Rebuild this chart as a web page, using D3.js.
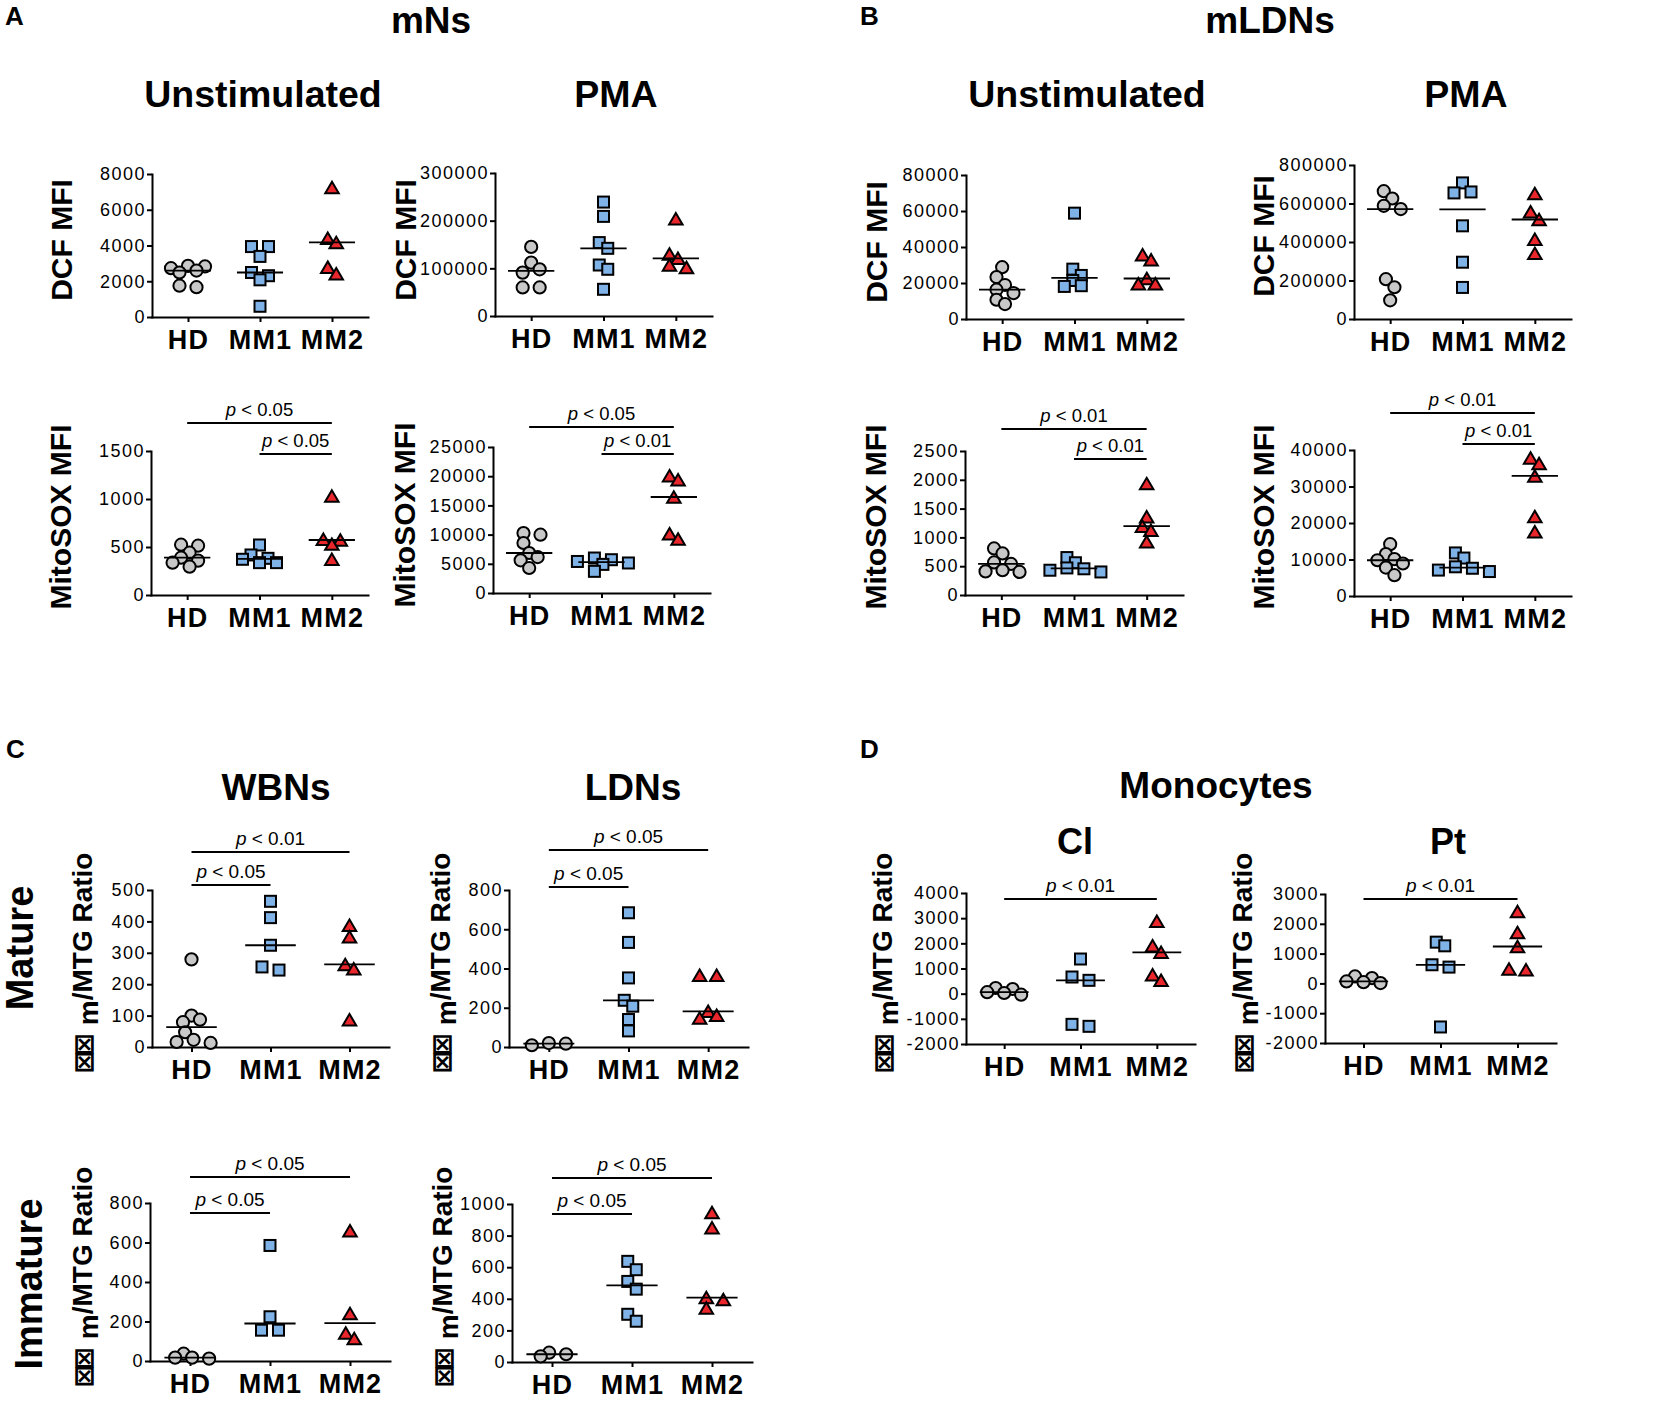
<!DOCTYPE html>
<html>
<head>
<meta charset="utf-8">
<script src="https://cdn.jsdelivr.net/npm/d3@7/dist/d3.min.js"></script>
<style>
  html, body { margin: 0; padding: 0; background: #fff; }
  svg { display: block; }
</style>
</head>
<body>
<svg id="chart" width="1654" height="1411"></svg>
<script>
// ---------------- DATA ----------------
const groups = ["HD", "MM1", "MM2"];

// Panel A: mNs
const aDcfUnstim = [[2830, 2600, 2490, 2730, 2860, 1670, 1750],
                    [3940, 3940, 3390, 2310, 2490, 2080, 600],
                    [7250, 4410, 4170, 2420, 2790]];
const aDcfPma = [[145000, 98000, 91000, 112000, 60000, 60000],
                 [239000, 209000, 154000, 142000, 107000, 98000, 56000],
                 [204000, 121000, 130000, 102000, 107000]];
const aMitoUnstim = [[441, 524, 514, 358, 389, 337, 295],
                     [521, 417, 372, 337, 337, 382],
                     [1031, 580, 573, 530, 372]];
const aMitoPma = [[9990, 10270, 8560, 6160, 6850, 5590, 4280],
                  [5990, 5700, 5400, 5140, 4900, 3710],
                  [19400, 20090, 16440, 9250, 10160]];

// Panel B: mLDNs
const bDcfUnstim = [[28800, 23300, 18900, 14400, 16300, 10700, 8300],
                    [58800, 27700, 21400, 24200, 18100, 18500],
                    [35700, 32900, 22500, 19600, 19600]];
const bDcfPma = [[626000, 664000, 571000, 588000, 207000, 165000, 97000],
                 [660000, 655000, 707000, 484000, 295000, 164000],
                 [652000, 557000, 517000, 414000, 341000]];
const bMitoUnstim = [[808, 722, 566, 540, 410, 400, 430],
                     [650, 560, 470, 455, 430, 400],
                     [1934, 1357, 1195, 1126, 924]];
const bMitoPma = [[14200, 11500, 10100, 9800, 8900, 7800, 5700],
                  [11800, 10400, 8000, 7600, 7100, 6700],
                  [37800, 36300, 32900, 21800, 17600]];

// Panel C: WBNs / LDNs
const cWbnMature = [[279, 87, 79, 100, 47, 23, 13, 16],
                    [464, 412, 324, 245, 255],
                    [388, 351, 263, 249, 87]];
const cLdnMature = [[20, 9, 17],
                    [684, 533, 352, 238, 208, 140, 82],
                    [366, 366, 182, 148, 162]];
const cWbnImmature = [[17, 12, 17, 37],
                      [585, 224, 156, 156],
                      [659, 241, 114, 142]];
const cLdnImmature = [[59, 36, 49],
                      [584, 637, 510, 461, 258, 302],
                      [946, 850, 408, 395, 342]];

// Panel D: Monocytes
const dCl = [[-40, 26, 60, 185, 225],
             [1377, 662, 530, -1298, -1219],
             [2874, 1907, 1642, 755, 530]];
const dPt = [[11, 40, 67, 178, 234],
             [1261, 1384, 625, 547, -1462],
             [2411, 1708, 1239, 458, 480]];

// Y tick values
const ticksADcfUnstim = [0, 2000, 4000, 6000, 8000];
const ticksADcfPma = [0, 100000, 200000, 300000];
const ticksAMitoUnstim = [0, 500, 1000, 1500];
const ticksAMitoPma = [0, 5000, 10000, 15000, 20000, 25000];
const ticksBDcfUnstim = [0, 20000, 40000, 60000, 80000];
const ticksBDcfPma = [0, 200000, 400000, 600000, 800000];
const ticksBMitoUnstim = [0, 500, 1000, 1500, 2000, 2500];
const ticksBMitoPma = [0, 10000, 20000, 30000, 40000];
const ticksCWbnMature = [0, 100, 200, 300, 400, 500];
const ticksCLdnMature = [0, 200, 400, 600, 800];
const ticksCWbnImmature = [0, 200, 400, 600, 800];
const ticksCLdnImmature = [0, 200, 400, 600, 800, 1000];
const ticksDCl = [-2000, -1000, 0, 1000, 2000, 3000, 4000];
const ticksDPt = [-2000, -1000, 0, 1000, 2000, 3000];

// Significance comparisons [from, to, p threshold]
const sigAMitoUnstim = [["HD", "MM2", "0.05"], ["MM1", "MM2", "0.05"]];
const sigAMitoPma = [["HD", "MM2", "0.05"], ["MM1", "MM2", "0.01"]];
const sigBMitoUnstim = [["HD", "MM2", "0.01"], ["MM1", "MM2", "0.01"]];
const sigBMitoPma = [["HD", "MM2", "0.01"], ["MM1", "MM2", "0.01"]];
const sigCWbnMature = [["HD", "MM2", "0.01"], ["HD", "MM1", "0.05"]];
const sigCLdnMature = [["HD", "MM2", "0.05"], ["HD", "MM1", "0.05"]];
const sigCWbnImmature = [["HD", "MM2", "0.05"], ["HD", "MM1", "0.05"]];
const sigCLdnImmature = [["HD", "MM2", "0.05"], ["HD", "MM1", "0.05"]];
const sigDCl = [["HD", "MM2", "0.01"]];
const sigDPt = [["HD", "MM2", "0.01"]];

// ---------------- LAYOUT ----------------
const FONT = "'Liberation Sans', Arial, Helvetica, sans-serif";
const FILLS = ["#c8c8c8", "#7fb2e6", "#e8262b"];
const YLAB_DCF = "DCF MFI", YLAB_MITO = "MitoSOX MFI", YLAB_RATIO = "ratio";

const panels = [
  {data: aDcfUnstim, ticks: ticksADcfUnstim, x0: 152, x1: 368, yTop: 174, yBot: 317, label: YLAB_DCF, lx: 72, ly: 240, sig: [], sigY: []},
  {data: aDcfPma, ticks: ticksADcfPma, x0: 495, x1: 712, yTop: 173, yBot: 316, label: YLAB_DCF, lx: 416, ly: 240, sig: [], sigY: []},
  {data: aMitoUnstim, ticks: ticksAMitoUnstim, x0: 151, x1: 368, yTop: 451, yBot: 595, label: YLAB_MITO, lx: 71, ly: 517, sig: sigAMitoUnstim, sigY: [423, 454], sigFs: 18.5},
  {data: aMitoPma, ticks: ticksAMitoPma, x0: 493, x1: 710, yTop: 447, yBot: 593, label: YLAB_MITO, lx: 415, ly: 515, sig: sigAMitoPma, sigY: [427, 454], sigFs: 18.5},
  {data: bDcfUnstim, ticks: ticksBDcfUnstim, x0: 966, x1: 1183, yTop: 175, yBot: 319, label: YLAB_DCF, lx: 887, ly: 242, sig: [], sigY: []},
  {data: bDcfPma, ticks: ticksBDcfPma, x0: 1354, x1: 1571, yTop: 165, yBot: 319, label: YLAB_DCF, lx: 1274, ly: 236, sig: [], sigY: []},
  {data: bMitoUnstim, ticks: ticksBMitoUnstim, x0: 965, x1: 1183, yTop: 451, yBot: 595, label: YLAB_MITO, lx: 886, ly: 517, sig: sigBMitoUnstim, sigY: [429, 459], sigFs: 18.5},
  {data: bMitoPma, ticks: ticksBMitoPma, x0: 1354, x1: 1571, yTop: 450, yBot: 596, label: YLAB_MITO, lx: 1274, ly: 517, sig: sigBMitoPma, sigY: [413, 444], sigFs: 18.5},
  {data: cWbnMature, ticks: ticksCWbnMature, x0: 152, x1: 389, yTop: 890, yBot: 1047, label: YLAB_RATIO, lx: 92, ly: 963, sig: sigCWbnMature, sigY: [852, 885], sigFs: 19},
  {data: cLdnMature, ticks: ticksCLdnMature, x0: 509, x1: 748, yTop: 890, yBot: 1047, label: YLAB_RATIO, lx: 450, ly: 963, sig: sigCLdnMature, sigY: [850, 887], sigFs: 19},
  {data: cWbnImmature, ticks: ticksCWbnImmature, x0: 150, x1: 390, yTop: 1203, yBot: 1361, label: YLAB_RATIO, lx: 92, ly: 1277, sig: sigCWbnImmature, sigY: [1177, 1213], sigFs: 19},
  {data: cLdnImmature, ticks: ticksCLdnImmature, x0: 512, x1: 752, yTop: 1204, yBot: 1362, label: YLAB_RATIO, lx: 452, ly: 1277, sig: sigCLdnImmature, sigY: [1178, 1214], sigFs: 19},
  {data: dCl, ticks: ticksDCl, x0: 966, x1: 1195, yTop: 893, yBot: 1044, label: YLAB_RATIO, lx: 892, ly: 963, sig: sigDCl, sigY: [899], sigFs: 19},
  {data: dPt, ticks: ticksDPt, x0: 1325, x1: 1556, yTop: 894, yBot: 1043, label: YLAB_RATIO, lx: 1252, ly: 963, sig: sigDPt, sigY: [899], sigFs: 19}
];

const titles = [
  {t: "A", x: 5, y: 25, fs: 26, anchor: "start"},
  {t: "B", x: 860, y: 25, fs: 26, anchor: "start"},
  {t: "C", x: 6, y: 758, fs: 26, anchor: "start"},
  {t: "D", x: 860, y: 758, fs: 26, anchor: "start"},
  {t: "mNs", x: 431, y: 33, fs: 37},
  {t: "mLDNs", x: 1270, y: 33, fs: 37},
  {t: "Unstimulated", x: 263, y: 107, fs: 37.5},
  {t: "PMA", x: 616, y: 107, fs: 37.5},
  {t: "Unstimulated", x: 1087, y: 107, fs: 37.5},
  {t: "PMA", x: 1466, y: 107, fs: 37.5},
  {t: "WBNs", x: 276, y: 800, fs: 37},
  {t: "LDNs", x: 633, y: 800, fs: 37},
  {t: "Monocytes", x: 1216, y: 798, fs: 37},
  {t: "Cl", x: 1075, y: 854, fs: 36},
  {t: "Pt", x: 1448, y: 854, fs: 36}
];
const rowLabels = [
  {t: "Mature", x: 33, y: 948, fs: 38},
  {t: "Immature", x: 42, y: 1284, fs: 38}
];

// ---------------- DRAW ----------------
const svg = d3.select("#chart");
svg.append("rect").attr("width", 1654).attr("height", 1411).attr("fill", "#fff");

titles.forEach(d => {
  svg.append("text").attr("x", d.x).attr("y", d.y)
    .attr("text-anchor", d.anchor || "middle")
    .attr("font-family", FONT).attr("font-weight", "bold").attr("font-size", d.fs)
    .attr("fill", "#000").text(d.t);
});
rowLabels.forEach(d => {
  svg.append("text").attr("transform", `translate(${d.x},${d.y}) rotate(-90)`)
    .attr("text-anchor", "middle")
    .attr("font-family", FONT).attr("font-weight", "bold").attr("font-size", d.fs)
    .attr("fill", "#000").text(d.t);
});

// GraphPad-like column scatter: grid columns, collision avoidance, recentred rows
function swarm(values, y, u = 8.5, minD = 9.2) {
  const pts = values.map(v => ({v, y: y(v)})).sort((a, b) => a.y - b.y);
  const placed = [];
  for (const p of pts) {
    let done = false;
    for (let k = 0; k < 30 && !done; k++) {
      const cols = k === 0 ? [0] : [k, -k];
      for (const c of cols) {
        const x = c * u;
        if (placed.every(q => Math.hypot(q.dx - x, q.y - p.y) >= minD)) { p.dx = x; done = true; break; }
      }
    }
    placed.push(p);
  }
  const comps = [];
  let cur = null;
  placed.forEach((p, j) => {
    if (j === 0 || p.y - placed[j - 1].y >= minD) { cur = []; comps.push(cur); }
    cur.push(p);
  });
  comps.forEach(c => { const m = d3.mean(c, q => q.dx); c.forEach(q => q.dx -= m); });
  return placed;
}

function marker(g, gi, cx, cy) {
  const common = s => s.attr("fill", FILLS[gi]).attr("stroke", "#000").attr("stroke-width", 2);
  if (gi === 0) {
    common(g.append("circle").attr("cx", cx).attr("cy", cy).attr("r", 6.1));
  } else if (gi === 1) {
    const s = 11;
    common(g.append("rect").attr("x", cx - s / 2).attr("y", cy - s / 2).attr("width", s).attr("height", s));
  } else {
    const w = 13.5, h = 11.5;
    common(g.append("path").attr("d", `M${cx},${cy - h / 2}L${cx + w / 2},${cy + h / 2}L${cx - w / 2},${cy + h / 2}Z`)
      .attr("stroke-linejoin", "miter"));
  }
}

function ratioLabel(g, x, y) {
  const t = g.append("text").attr("transform", `translate(${x},${y}) rotate(-90)`)
    .attr("text-anchor", "middle").attr("font-family", FONT).attr("font-weight", "bold")
    .attr("font-size", 28).attr("fill", "#000");
  t.append("tspan").attr("font-family", "'DejaVu Sans', sans-serif").attr("font-weight", "bold")
    .attr("font-size", 27).attr("letter-spacing", -5).attr("dy", 1).text("\u22A0\u22A0");
  t.append("tspan").attr("dx", 13).attr("dy", 5).text("m");
  t.append("tspan").attr("dy", -6).text("/MTG Ratio");
}

panels.forEach(cfg => {
  const g = svg.append("g");
  const x = d3.scalePoint().domain(groups).range([cfg.x0, cfg.x1]).padding(0.5);
  const y = d3.scaleLinear().domain(d3.extent(cfg.ticks)).range([cfg.yBot, cfg.yTop]);

  const yAxis = g.append("g").attr("transform", `translate(${cfg.x0},0)`)
    .call(d3.axisLeft(y).tickValues(cfg.ticks).tickSize(5).tickSizeOuter(0).tickPadding(1).tickFormat(d => String(d)));
  const xAxis = g.append("g").attr("transform", `translate(0,${cfg.yBot})`)
    .call(d3.axisBottom(x).tickSize(5).tickSizeOuter(0).tickPadding(8));

  [yAxis, xAxis].forEach(a => {
    a.attr("font-family", null).attr("font-size", null);
    a.select(".domain").attr("stroke", "#000").attr("stroke-width", 2).attr("stroke-linecap", "square");
    a.selectAll(".tick line").attr("stroke", "#000").attr("stroke-width", 2);
  });
  yAxis.selectAll(".tick text").attr("font-family", FONT).attr("font-size", 18)
    .attr("letter-spacing", 1.5).attr("fill", "#000");
  xAxis.selectAll(".tick text").attr("font-family", FONT).attr("font-size", 27)
    .attr("font-weight", "bold").attr("letter-spacing", 1.2).attr("fill", "#000");

  // y label
  if (cfg.label === YLAB_RATIO) {
    ratioLabel(g, cfg.lx, cfg.ly);
  } else {
    g.append("text").attr("transform", `translate(${cfg.lx},${cfg.ly}) rotate(-90)`)
      .attr("text-anchor", "middle").attr("font-family", FONT).attr("font-weight", "bold")
      .attr("font-size", 30).attr("fill", "#000").text(cfg.label);
  }

  // points + median
  const half = x.step() * 0.32;
  cfg.data.forEach((vals, gi) => {
    const cx = x(groups[gi]);
    swarm(vals, y).forEach(p => marker(g, gi, cx + p.dx, p.y));
    const m = y(d3.median(vals));
    g.append("line").attr("x1", cx - half).attr("x2", cx + half).attr("y1", m).attr("y2", m)
      .attr("stroke", "#000").attr("stroke-width", 1.8);
  });

  // significance bars
  cfg.sig.forEach((s, i) => {
    const yy = cfg.sigY[i];
    const xa = x(s[0]), xb = x(s[1]);
    g.append("line").attr("x1", xa).attr("x2", xb).attr("y1", yy).attr("y2", yy)
      .attr("stroke", "#000").attr("stroke-width", 2.2);
    const t = g.append("text").attr("x", (xa + xb) / 2).attr("y", yy - 7)
      .attr("text-anchor", "middle").attr("font-family", FONT).attr("font-size", cfg.sigFs).attr("fill", "#000");
    t.append("tspan").attr("font-style", "italic").text("p");
    t.append("tspan").text(" < " + s[2]);
  });
});
</script>
</body>
</html>
